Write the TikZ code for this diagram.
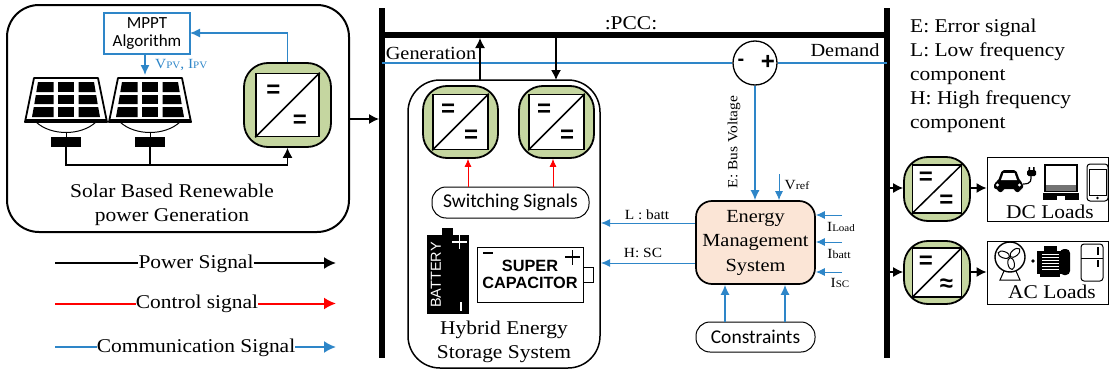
\documentclass[tikz,border=0pt]{standalone}
\usepackage{fontspec}
\setmainfont[FakeStretch=1.1]{Liberation Serif}
\newfontfamily\calibrifont{Carlito}
\newfontfamily\arialfont{Liberation Sans}
\usepackage{tikz}
\usetikzlibrary{arrows.meta}
\usetikzlibrary{positioning}
\usetikzlibrary{calc}
\definecolor{commblue}{HTML}{2E86C8}
\definecolor{convgreen}{HTML}{C5D6A0}
\definecolor{emsfill}{HTML}{FBE5D6}
\newcommand{\fsize}[1]{\fontsize{#1}{#1}\selectfont}
\tikzset{
	>={Latex[length=10pt,width=10pt]},
	power/.style={draw=black, line width=1.3pt, ->},
	control/.style={draw=red, line width=0.7pt, -{Latex[length=8pt,width=7pt]}},
	comm/.style={draw=commblue, line width=1.3pt, -{Latex[length=10pt,width=9pt]}},
	commthin/.style={draw=commblue, line width=0.9pt, -{Latex[length=9pt,width=8pt]}},
	bus/.style={draw=black, line width=6pt},
	groupbox/.style={draw=black, line width=2pt, rounded corners=32pt, inner sep=0pt},
	pill/.style={draw=black, line width=1pt, rounded corners=14pt, inner sep=0pt, font=\calibrifont\fsize{19.5}},
	convout/.style={draw=black, line width=1.8pt, fill=convgreen, rounded corners=24pt, inner sep=0pt},
	convin/.style={draw=black, line width=1.6pt, fill=white, inner sep=0pt},
	convsign/.style={inner sep=0pt, font=\arialfont\bfseries\fsize{24}},
	loadbox/.style={draw=black, line width=1pt, inner sep=0pt},
	txt/.style={inner sep=0pt, font=\fsize{19.5}, text height=13pt, text depth=4pt},
	lbl/.style={inner sep=0pt, font=\fsize{14}},
	legend/.style={inner sep=0pt, font=\fsize{19.5}, text height=13pt, text depth=4pt},
	legline/.style={line width=2pt},
	legarrow/.style={line width=2pt, -{Latex[length=12pt,width=12pt]}},
}
\newcommand{\converter}[7]{
	\node[convout, minimum width=#3, minimum height=#4] (#1) at (#2) {};
	\node[convin, minimum width=#5, minimum height=#6] (#1in) at (#1) {};
	\draw[line width=1.5pt] (#1in.south west)--(#1in.north east);
	\node[convsign] (#1up) at ($(#1in.north west)+(0.29*#5,0.3*#6)$) {=};
	\node[convsign] (#1lo) at ($(#1in.north west)+(0.71*#5,0.77*#6)$) {#7};
}
\newcommand{\solarpanel}[2]{
\begin{scope}[shift={(#2,78)}]
	\draw[line width=1.8pt, line join=round, fill=white] (-32,0)--(32,0)--(41,44)--(-41,44)--cycle;
	\foreach \ya/\yb/\ha/\hb in {4/14/28/29.7, 17/26/30.2/31.7, 29/39/32.2/34} {
		\fill (-\ha,\ya)--(-12.5,\ya)--(-12.5,\yb)--(-\hb,\yb)--cycle;
		\fill (-8,\ya) rectangle (8,\yb);
		\fill (12.5,\ya)--(\ha,\ya)--(\hb,\yb)--(12.5,\yb)--cycle;
	}
	\fill (-41,41)--(41,41)--(41,44)--(-41,44)--cycle;
	\draw[line width=1pt] (-30,44) .. controls (-15,58) and (15,58) .. (30,44);
	\draw[line width=1pt] (0,54)--(0,59);
	\fill (-15,59) rectangle (15,69);
	\coordinate (#1) at (0,69);
\end{scope}
}
\begin{document}
\begin{tikzpicture}[x=1pt, y=-1pt]
	\useasboundingbox (0,0) rectangle (1109,372);
	% buses
	\coordinate (busLtop) at (382,8);
	\coordinate (busLbot) at (382,358);
	\coordinate (busRtop) at (887,8);
	\coordinate (busRbot) at (887,358);
	\coordinate (pccL) at (382,35);
	\coordinate (pccR) at (887,35);
	\draw[bus] (busLtop)--(busLbot);
	\draw[bus] (busRtop)--(busRbot);
	\draw[bus] (pccL)--(pccR);
	\node[txt] (pcc) at (631,24.5) {:PCC:};
	\coordinate (sigL) at (382,63);
	\coordinate (sigR) at (887,63);
	\node[draw=black, line width=1.3pt, circle, minimum size=44pt, inner sep=0pt] (sum) at (755,63) {};
	\draw[commblue, line width=1.2pt] (sigL)--(sum.west);
	\draw[commblue, line width=1.2pt] (sum.east)--(sigR);
	\node[inner sep=0pt, font=\arialfont\bfseries\fsize{20}] (summinus) at (741,62) {-};
	\node[inner sep=0pt, font=\arialfont\bfseries\fsize{24}] (sumplus) at (768,62) {+};
	\node[txt, font=\fsize{18.5}] (gen) at (431,54.5) {Generation};
	\node[txt, font=\fsize{18.5}] (dem) at (845,51.5) {Demand};
	% solar side
	\node[groupbox, minimum width=342, minimum height=227] (solar) at (178,118.5) {};
	\node[draw=commblue, line width=1.2pt, minimum width=86, minimum height=41, inner sep=0pt, align=center, font=\calibrifont\fsize{17}] (mppt) at (147,33.5) {MPPT\\[1pt]Algorithm};
	\solarpanel{pvA}{66}
	\solarpanel{pvB}{150}
	\converter{convPV}{287.5,105}{87}{84}{63}{63}{=}
	\coordinate (mpptin) at (190,33);
	\draw[comm] (convPV.north) |- (mpptin);
	\coordinate (mpptout) at (145,54);
	\coordinate (pvtop) at (145,75);
	\draw[comm] (mpptout)--(pvtop);
	\node[lbl, commblue, anchor=west] (vpv) at (155,65) {V{\fsize{10}PV}, I{\fsize{10}PV}};
	\coordinate (pvjoin) at (150,165);
	\draw[line width=1.1pt] (pvB)--(pvjoin);
	\draw[power, line width=1.1pt] (pvA) |- (pvjoin) -| (convPV.south);
	\node[txt] (solarA) at (172,192.5) {Solar Based Renewable};
	\node[txt] (solarB) at (172,216.5) {power Generation};
	\coordinate (busLin) at (379,119);
	\draw[power] (solar.east |- busLin)--(busLin);
	% hybrid storage
	\node[groupbox, line width=1.5pt, minimum width=192, minimum height=288] (hess) at (504,224) {};
	\converter{convBat}{460.5,122}{75}{72}{55}{55}{=}
	\converter{convSC}{556.5,122}{75}{72}{55}{55}{=}
	\coordinate (pccup) at (480,38);
	\coordinate (hessup) at (480,80);
	\coordinate (pccdn) at (556,38);
	\coordinate (hessdn) at (556,80);
	\draw[power] (hessup)--(pccup);
	\draw[power] (pccdn)--(hessdn);
	\node[pill, minimum width=157, minimum height=31] (switch) at (510.5,202.5) {Switching Signals};
	\coordinate (ctlA) at (468,187);
	\coordinate (ctlB) at (553,187);
	\draw[control] (ctlA)--(ctlA |- convBat.south);
	\draw[control] (ctlB)--(ctlB |- convSC.south);
	% battery
	\fill (442,228) rectangle (453,236);
	\fill (427,235) rectangle (469,314);
	\node[inner sep=0pt, white, rotate=90, font=\arialfont\fsize{14.5}] (batt) at (436,275) {BATTERY};
	\draw[white, line width=1.5pt] (452,242)--(467,242) (459.5,235)--(459.5,249);
	\draw[white, line width=1.5pt] (461,302)--(461,311);
	% super capacitor
	\draw[line width=1pt] (583,267) rectangle (593,282);
	\node[draw=black, line width=1pt, fill=white, minimum width=106, minimum height=55, inner sep=0pt, align=center, font=\arialfont\bfseries\fsize{16.3}] (supercap) at (530,274.5) {SUPER\\[1pt]CAPACITOR};
	\draw[line width=1.8pt] (483,253)--(493,253);
	\draw[line width=1.8pt] (565,257)--(580,257) (572.5,250)--(572.5,265);
	\node[txt] (hessA) at (504,329.5) {Hybrid Energy};
	\node[txt] (hessB) at (504,353.5) {Storage System};
	% energy management
	\node[draw=black, line width=1.7pt, fill=emsfill, rounded corners=16pt, minimum width=119, minimum height=83, inner sep=0pt, align=center, font=\fsize{18.5}] (ems) at (755.5,242.5) {Energy\\[6pt]Management\\[6pt]System};
	\coordinate (hessL) at (601,223);
	\coordinate (hessH) at (601,263);
	\draw[commthin] (ems.west |- hessL)--(hessL);
	\draw[commthin] (ems.west |- hessH)--(hessH);
	\node[lbl] (lbatt) at (647,215) {L : batt};
	\node[lbl] (hsc) at (643,253) {H: SC};
	\draw[comm] (sum.south)--(sum.south |- ems.north);
	\node[lbl, rotate=90] (ebus) at (734,142) {E: Bus Voltage};
	\coordinate (vreftop) at (779,174);
	\draw[commthin] (vreftop)--(vreftop |- ems.north);
	\node[lbl] (vref) at (797,185) {V{\fsize{11}ref}};
	\coordinate (iload) at (842,215);
	\coordinate (ibatt) at (842,242);
	\coordinate (isc) at (842,272);
	\draw[commthin] (iload)--(ems.east |- iload);
	\draw[commthin] (ibatt)--(ems.east |- ibatt);
	\draw[commthin] (isc)--(ems.east |- isc);
	\node[lbl] (iloadtxt) at (841,227) {I{\fsize{10}Load}};
	\node[lbl] (ibatttxt) at (839,254) {I{\fsize{11}batt}};
	\node[lbl] (isctxt) at (840,283) {I{\fsize{10}SC}};
	\node[pill, minimum width=119, minimum height=30] (constr) at (755.5,337) {Constraints};
	\coordinate (conA) at (725,322);
	\coordinate (conB) at (785,322);
	\draw[comm] (conA)--(conA |- ems.south);
	\draw[comm] (conB)--(conB |- ems.south);
	% notes
	\node[txt, anchor=west] (noteA) at (910,27.5) {E: Error signal};
	\node[txt, anchor=west] (noteB) at (910,51.5) {L: Low frequency};
	\node[txt, anchor=west] (noteC) at (910,75.5) {component};
	\node[txt, anchor=west] (noteD) at (910,99.5) {H: High frequency};
	\node[txt, anchor=west] (noteE) at (910,123.5) {component};
	% loads
	\converter{convDC}{937,189}{66}{64}{49}{48}{=}
	\converter{convAC}{937,272.5}{66}{63}{49}{49}{≈}
	\node[loadbox, minimum width=121, minimum height=64] (dcload) at (1047.5,189) {};
	\node[loadbox, minimum width=121, minimum height=63] (acload) at (1047.5,272.5) {};
	\coordinate (busDC) at (887,188);
	\coordinate (busAC) at (887,272);
	\draw[power] (busDC)--(convDC.west |- busDC);
	\draw[power] (busAC)--(convAC.west |- busAC);
	\draw[power] (convDC.east |- busDC)--(dcload.west |- busDC);
	\draw[power] (convAC.east |- busAC)--(acload.west |- busAC);
	\node[txt] (dctxt) at (1050,213.5) {DC Loads};
	\node[txt] (actxt) at (1052,293.5) {AC Loads};
	% car and plug
	\fill[rounded corners=2pt] (1002,170)--(1016,170)--(1020,181)--(1023,183)--(1023,189)--(1020,189)--(1020,192)--(1015,192)--(1015,189)--(1003,189)--(1003,192)--(998,192)--(998,189)--(994,189)--(994,183)--(998,181)--cycle;
	\fill[white] (1003.5,173)--(1014.5,173)--(1017,180)--(1001,180)--cycle;
	\fill[white] (997.5,185) circle (1.7) (1019.5,185) circle (1.7);
	\draw[line width=1.2pt] (1023,184) .. controls (1032,184) and (1031,180) .. (1031,175);
	\fill[rounded corners=1.5pt] (1027,170) rectangle (1036,176);
	\fill (1028.5,167) rectangle (1030,171) (1033,167) rectangle (1034.5,171);
	% laptop
	\draw[line width=1.8pt] (1045,165) rectangle (1077,191);
	\fill[black!55] (1046,185) rectangle (1076,191);
	\fill (1043,193)--(1079,193)--(1079,200)--(1043,200)--cycle;
	\fill[white] (1057,196) rectangle (1065,200);
	% phone
	\draw[line width=1pt, rounded corners=3pt] (1087,164) rectangle (1108,201);
	\draw[line width=0.6pt] (1089,169) rectangle (1106,195);
	\fill (1097.5,198) circle (1.3);
	% fan
	\node[draw=black, line width=1.4pt, circle, minimum size=30pt, inner sep=0pt] (fan) at (1010,257) {};
	\foreach \ang in {40,160,280} {
		\draw[line width=1pt, rotate around={\ang:(fan.center)}] ($(fan.center)+(6.5,0)$) ellipse (6 and 3.2);
	}
	\draw[line width=1pt] (1004,271)--(1000,280)--(1020,280)--(1016,271);
	% motor
	\fill (1033,261) circle (1.8);
	\fill (1037,251) rectangle (1062,274);
	\fill[rounded corners=4pt] (1060,249) rectangle (1070,275);
	\fill (1044,246) rectangle (1057,251);
	\fill (1040,274) rectangle (1060,277);
	\foreach \ypos in {254,257,260,263,266,269} {
		\draw[white, line width=1pt] (1042,\ypos)--(1059,\ypos);
	}
	% fridge
	\draw[line width=1pt, rounded corners=3pt] (1081,244) rectangle (1103,281);
	\draw[line width=1pt] (1081,258)--(1103,258);
	\draw[line width=2pt] (1098,247)--(1098,255);
	\draw[line width=2pt] (1098,260)--(1098,267);
	% legend
	\coordinate (powL) at (55,263);
	\coordinate (powR) at (336,263);
	\node[legend] (powtxt) at (196,263.5) {Power Signal};
	\draw[black, legline] (powL)--(powtxt.west |- powL);
	\draw[black, legarrow] (powtxt.east |- powR)--(powR);
	\coordinate (ctlL) at (55,303.5);
	\coordinate (ctlR) at (336,303.5);
	\node[legend] (ctltxt) at (197,304) {Control signal};
	\draw[red, legline] (ctlL)--(ctltxt.west |- ctlL);
	\draw[red, legarrow] (ctltxt.east |- ctlR)--(ctlR);
	\coordinate (comL) at (55,347);
	\coordinate (comR) at (336,347);
	\node[legend] (comtxt) at (196,347.5) {Communication Signal};
	\draw[commblue, legline] (comL)--(comtxt.west |- comL);
	\draw[commblue, legarrow] (comtxt.east |- comR)--(comR);
\end{tikzpicture}
\end{document}
